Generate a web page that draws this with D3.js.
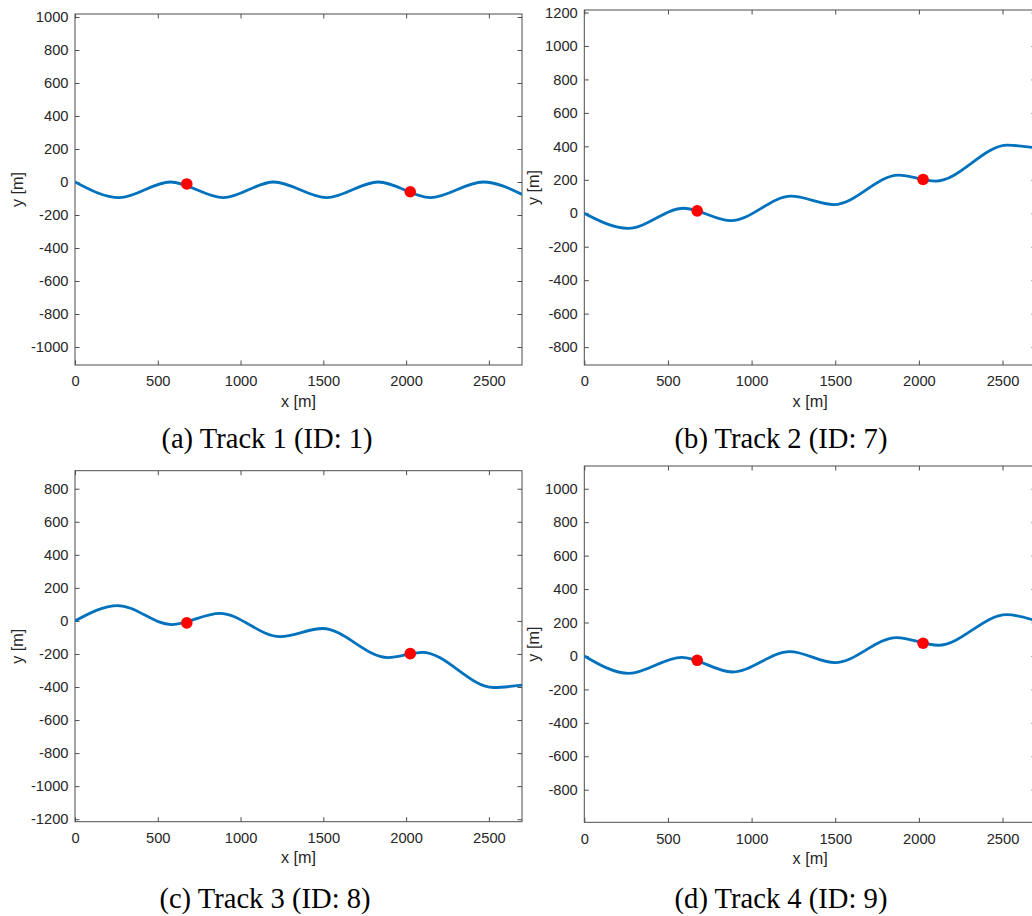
<!DOCTYPE html>
<html><head><meta charset="utf-8">
<script src="https://cdn.jsdelivr.net/npm/d3@7"></script>
<style>
html,body{margin:0;padding:0;background:#fff;}
svg{display:block;}
</style></head><body>
<svg id="chart" width="1032" height="916"></svg>
<script>
// ---------------- data ----------------
const xTicks = [0, 500, 1000, 1500, 2000, 2500];
const xDomain = [0, 2700];

const yTicks1 = [-1000, -800, -600, -400, -200, 0, 200, 400, 600, 800, 1000];
const yTicks2 = [-800, -600, -400, -200, 0, 200, 400, 600, 800, 1000, 1200];
const yTicks3 = [-1200, -1000, -800, -600, -400, -200, 0, 200, 400, 600, 800];
const yTicks4 = [-800, -600, -400, -200, 0, 200, 400, 600, 800, 1000];

const track1X = [0, 268, 576, 896, 1200, 1520, 1832, 2146, 2466, 2700];
const track1Y = [0, -95, 0, -95, 0, -95, 0, -95, 0, -75];

const track2X = [0, 262, 595, 878, 1236, 1492, 1878, 2100, 2530, 2700];
const track2Y = [0, -90, 30, -44, 102, 52, 228, 192, 407, 390];

const track3X = [0, 258, 585, 875, 1239, 1495, 1890, 2098, 2528, 2700];
const track3Y = [0, 93, -22, 46, -95, -46, -222, -190, -403, -389];

const track4X = [0, 267, 582, 886, 1229, 1498, 1867, 2116, 2524, 2700];
const track4Y = [0, -104, -8, -96, 26, -40, 110, 64, 247, 210];

const sensorX = [675, 2025];
const sensorY1 = [-12, -59];
const sensorY2 = [14, 202];
const sensorY3 = [-12, -198];
const sensorY4 = [-26, 76];

const captions = ["(a) Track 1 (ID: 1)", "(b) Track 2 (ID: 7)", "(c) Track 3 (ID: 8)", "(d) Track 4 (ID: 9)"];
const xLabel = "x [m]";
const yLabel = "y [m]";

// ---------------- layout ----------------
const panels = [
  {tx: track1X, ty: track1Y, sy: sensorY1, yTicks: yTicks1, yDomain: [-1109, 1018],
   left: 75, right: 522, top: 14, bottom: 365, yLabOff: 51.8, capX: 267, capY: 448},
  {tx: track2X, ty: track2Y, sy: sensorY2, yTicks: yTicks2, yDomain: [-907, 1215],
   left: 584.3, right: 1036, top: 10, bottom: 365, yLabOff: 45.5, capX: 781, capY: 448},
  {tx: track3X, ty: track3Y, sy: sensorY3, yTicks: yTicks3, yDomain: [-1215, 909],
   left: 75, right: 522, top: 470.7, bottom: 821.7, yLabOff: 51.8, capX: 265, capY: 908},
  {tx: track4X, ty: track4Y, sy: sensorY4, yTicks: yTicks4, yDomain: [-995, 1136],
   left: 584.3, right: 1036, top: 466, bottom: 822.3, yLabOff: 45.5, capX: 781, capY: 908}
];

const svg = d3.select("#chart");
const tickFont = "Liberation Sans, Arial, Helvetica, sans-serif";
const axisColor = "#4d4d4d";
const textColor = "#262626";
const tickLen = 4.5;

panels.forEach((p, i) => {
  const x = d3.scaleLinear().domain(xDomain).range([p.left, p.right]);
  const y = d3.scaleLinear().domain(p.yDomain).range([p.bottom, p.top]);
  const g = svg.append("g");

  const clipId = "clip" + i;
  svg.append("clipPath").attr("id", clipId)
    .append("rect").attr("x", p.left).attr("y", p.top)
    .attr("width", p.right - p.left).attr("height", p.bottom - p.top);

  function style(ax) {
    ax.select(".domain").remove();
    ax.selectAll(".tick line").attr("stroke", axisColor).attr("stroke-width", 1);
    ax.selectAll(".tick text").attr("fill", textColor)
      .style("font-family", tickFont).style("font-size", "14.7px");
  }

  const gb = g.append("g").attr("transform", `translate(0,${p.bottom})`)
    .call(d3.axisBottom(x).tickValues(xTicks).tickSizeInner(-tickLen).tickSizeOuter(0).tickPadding(11).tickFormat(d3.format("d")));
  style(gb);
  const gt = g.append("g").attr("transform", `translate(0,${p.top})`)
    .call(d3.axisTop(x).tickValues(xTicks).tickSizeInner(-tickLen).tickSizeOuter(0).tickFormat(""));
  style(gt);
  const gl = g.append("g").attr("transform", `translate(${p.left},0)`)
    .call(d3.axisLeft(y).tickValues(p.yTicks).tickSizeInner(-tickLen).tickSizeOuter(0).tickPadding(6.5).tickFormat(d3.format("d")));
  style(gl);
  gl.selectAll(".tick text").text(d => String(d).replace("\u2212", "-"));
  const gr = g.append("g").attr("transform", `translate(${p.right},0)`)
    .call(d3.axisRight(y).tickValues(p.yTicks).tickSizeInner(-tickLen).tickSizeOuter(0).tickFormat(""));
  style(gr);

  g.append("rect").attr("x", p.left).attr("y", p.top)
    .attr("width", p.right - p.left).attr("height", p.bottom - p.top)
    .attr("fill", "none").attr("stroke", axisColor).attr("stroke-width", 1);

  const pts = p.tx.map((v, k) => [v, p.ty[k]]);
  const line = d3.line().x(d => x(d[0])).y(d => y(d[1])).curve(d3.curveMonotoneX);
  g.append("path").datum(pts).attr("d", line)
    .attr("clip-path", `url(#${clipId})`)
    .attr("fill", "none").attr("stroke", "#0072BD").attr("stroke-width", 2.8)
    .attr("stroke-linejoin", "round").attr("stroke-linecap", "butt");

  g.selectAll("circle.s").data(sensorX.map((v, k) => [v, p.sy[k]])).enter()
    .append("circle").attr("class", "s")
    .attr("cx", d => x(d[0])).attr("cy", d => y(d[1])).attr("r", 5.8)
    .attr("fill", "#FF0000");

  g.append("text").attr("x", (p.left + p.right) / 2).attr("y", p.bottom + 41.5)
    .attr("text-anchor", "middle").attr("fill", textColor)
    .style("font-family", tickFont).style("font-size", "16.2px").text(xLabel);

  const yc = (p.top + p.bottom) / 2;
  g.append("text").attr("transform", `translate(${p.left - p.yLabOff},${yc}) rotate(-90)`)
    .attr("text-anchor", "middle").attr("fill", textColor)
    .style("font-family", tickFont).style("font-size", "16.2px").text(yLabel);

  svg.append("text").attr("x", p.capX).attr("y", p.capY)
    .attr("text-anchor", "middle").attr("fill", "#000")
    .style("font-family", "Liberation Serif, Times New Roman, serif").style("font-size", "28.6px")
    .text(captions[i]);
});
</script>
</body></html>
